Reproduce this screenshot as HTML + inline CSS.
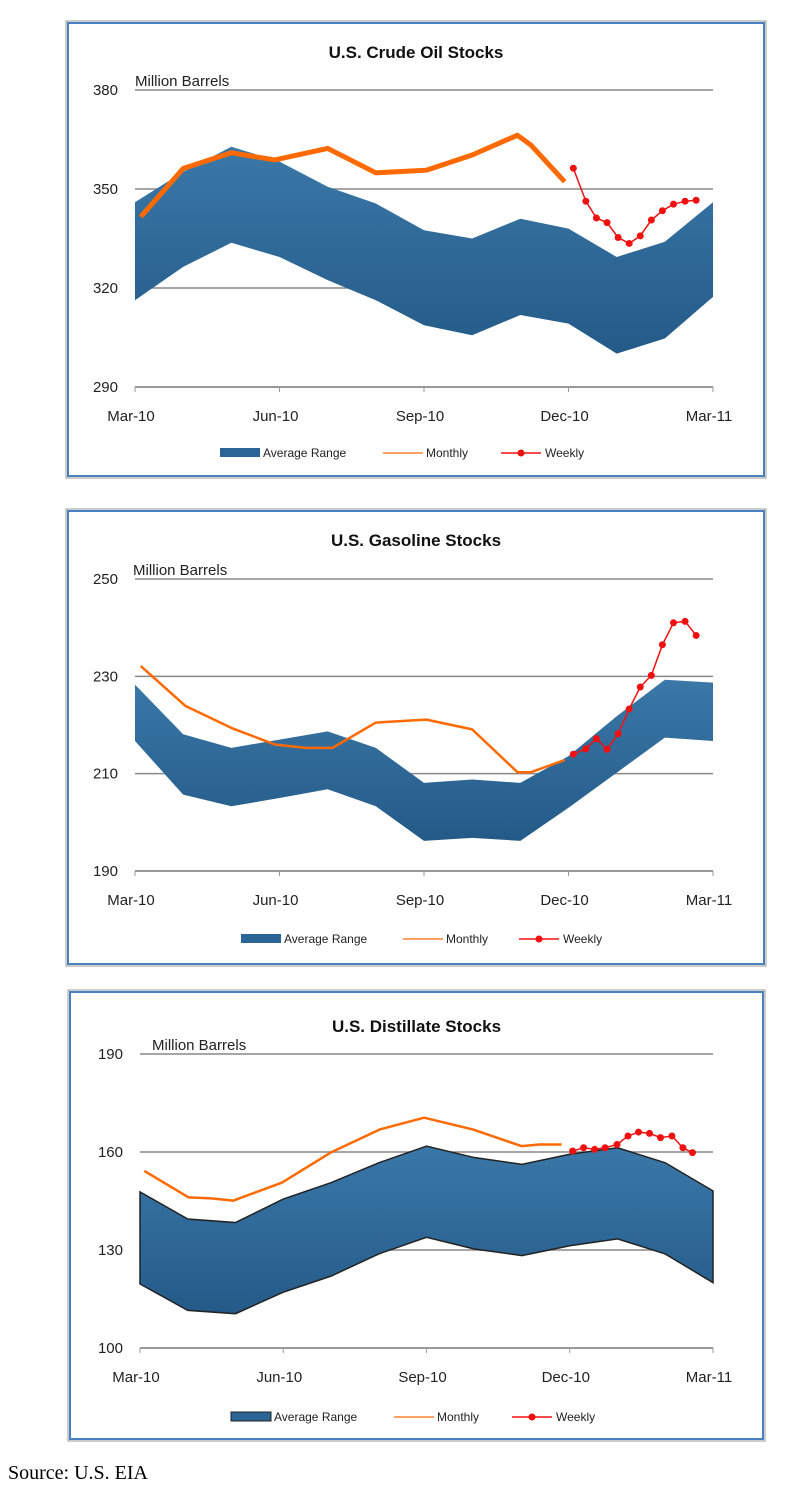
<!DOCTYPE html>
<html><head><meta charset="utf-8"><style>
body{margin:0;background:#fff;width:789px;height:1502px;position:relative;overflow:hidden;font-family:"Liberation Sans",sans-serif}
svg{position:absolute;left:0;top:0}
.src{position:absolute;left:8px;top:1462px;font-family:"Liberation Serif",serif;font-size:20px;color:#000}
</style></head><body>
<svg id="s" width="789" height="1502">
<defs><linearGradient id="bg" x1="0" y1="0" x2="0" y2="1"><stop offset="0" stop-color="#3a78a8"/><stop offset="1" stop-color="#245a88"/></linearGradient></defs>
</svg>
<div class="src">Source: U.S. EIA</div>
<script>
// ---- Crude oil data (x in months since Mar-10) ----
const crudeBandX=[0,1,2,3,4,5,6,7,8,9,10,11,12];
const crudeUpper=[346,355.2,362.8,358.3,350.7,345.6,337.5,335,341,338,329.4,334,346];
const crudeLower=[316.3,326.4,333.7,329.4,322.4,316.3,308.7,305.7,311.8,309.2,300.1,304.7,317.3];
const crudeMonthlyX=[0.12,1,2,2.9,4,5,6.05,7,7.94,8.22,8.92];
const crudeMonthly=[341.6,356.2,361,358.8,362.3,354.9,355.7,360.3,366.3,363.3,352.2];
const crudeWeeklyX=[9.1,9.36,9.58,9.8,10.03,10.26,10.49,10.72,10.95,11.18,11.42,11.65];
const crudeWeekly=[356.3,346.3,341.2,339.8,335.3,333.5,335.8,340.6,343.4,345.4,346.3,346.6];
const crudeTicks=[290,320,350,380];
// ---- Gasoline data ----
const gasBandX=[0,1,2,3,4,5,6,7,8,9,10,11,12];
const gasUpper=[228.3,218.1,215.3,217,218.7,215.3,208.1,208.8,208.1,213.6,221.8,229.3,228.7];
const gasLower=[216.7,205.7,203.3,205,206.8,203.3,196.2,196.8,196.2,203,210.2,217.4,216.7];
const gasMonthlyX=[0.12,1.05,2,2.9,3.55,4.1,5,6.05,7,7.94,8.22,8.92];
const gasMonthly=[232.1,223.9,219.4,216,215.3,215.3,220.5,221.1,219.1,210.3,210.3,212.8];
const gasWeeklyX=[9.1,9.36,9.58,9.8,10.03,10.26,10.49,10.72,10.95,11.18,11.42,11.65];
const gasWeekly=[214,215.1,217.2,215,218.2,223.3,227.8,230.2,236.5,241,241.3,238.4];
const gasTicks=[190,210,230,250];
// ---- Distillate data ----
const distBandX=[0,1,2,3,4,5,6,7,8,9,10,11,12];
const distUpper=[147.8,139.5,138.4,145.6,150.6,156.7,161.8,158.3,156.2,159.3,161.3,156.7,148.1];
const distLower=[119.6,111.5,110.5,117.1,122,128.8,133.9,130.3,128.3,131.3,133.4,128.8,120];
const distMonthlyX=[0.09,1.02,1.49,1.95,2.97,3.99,5.02,5.95,6.97,7.99,8.36,8.83];
const distMonthly=[154.2,146.1,145.8,145.1,150.6,159.8,166.9,170.5,166.9,161.8,162.3,162.3];
const distWeeklyX=[9.06,9.29,9.52,9.74,9.99,10.22,10.44,10.67,10.9,11.14,11.37,11.57];
const distWeekly=[160.3,161.3,160.8,161.3,162.3,164.9,166.1,165.7,164.4,164.9,161.3,159.8];
const distTicks=[100,130,160,190];
const xLabels=["Mar-10","Jun-10","Sep-10","Dec-10","Mar-11"];

const svg=document.getElementById('s');
const NS='http://www.w3.org/2000/svg';
function mk(tag,attrs,parent){const e=document.createElementNS(NS,tag);for(const k in attrs)e.setAttribute(k,attrs[k]);(parent||svg).appendChild(e);return e;}

function chart(c){
  const g=mk('g',{});
  
  
  const f=mk('rect',{x:c.fx,y:c.fy,width:c.fw,height:c.fh,fill:'#fff',stroke:'#4a7fc0','stroke-width':2},g);
  
  
  mk('rect',{x:c.fx-2,y:c.fy-2,width:c.fw+4,height:c.fh+4,fill:'none',stroke:'#999','stroke-width':1},g);
  const yMin=c.ticks[0],yMax=c.ticks[c.ticks.length-1];
  const X=m=>c.x0+(c.x1-c.x0)*m/12;
  const Y=v=>c.y1-(c.y1-c.y0)*(v-yMin)/(yMax-yMin);
  c.ticks.forEach((t,i)=>{
    const l=mk('line',{x1:c.x0,x2:c.x1,y1:Y(t),y2:Y(t),stroke:i==0?'#999':'#888','stroke-width':i==0?2:1.5},g);
    
    
    const tx=mk('text',{x:c.x0-17,y:Y(t)+5,'text-anchor':'end','font-size':15,fill:'#222'},g);tx.textContent=t;
    
    
  });
  xLabels.forEach((s,i)=>{
    mk('line',{x1:X(i*3),x2:X(i*3),y1:c.y1,y2:c.y1+5,stroke:'#999'},g);
    const tx=mk('text',{x:X(i*3)-4,y:c.y1+34,'text-anchor':'middle','font-size':15,fill:'#222'},g);tx.textContent=s;
    
    
  });
  let d='M'+c.bx.map((m,i)=>X(m)+','+Y(c.up[i])).join('L');
  for(let i=c.bx.length-1;i>=0;i--)d+='L'+X(c.bx[i])+','+Y(c.lo[i]);
  const band=mk('path',{d:d+'Z',fill:'url(#bg)',stroke:c.outline?'#222':'none','stroke-width':1.5},g);
  
  
  const mp=mk('polyline',{points:c.mx.map((m,i)=>X(m)+','+Y(c.mv[i])).join(' '),fill:'none',stroke:'#ff6a00','stroke-width':c.thick?5:2.5,'stroke-linejoin':'round'},g);
  
  
  const wp=mk('polyline',{points:c.wx.map((m,i)=>X(m)+','+Y(c.wv[i])).join(' '),fill:'none',stroke:'#f01010','stroke-width':1.5},g);
  
  
  c.wx.forEach((m,i)=>{const p=mk('circle',{cx:X(m),cy:Y(c.wv[i]),r:3.5,fill:'#f01010'},g);
    
    });
  const tt=mk('text',{x:c.fx+c.fw/2+(c.tdx||0),y:c.ty,'text-anchor':'middle','font-size':17,'font-weight':'bold',fill:'#111'},g);tt.textContent=c.title;
  
  
  const ul=mk('text',{x:c.ux,y:c.y0-4,'font-size':15,fill:'#222'},g);ul.textContent='Million Barrels';
  
  
  // legend
  const ly=c.ly;let lx=c.lx;
  const lg=mk('g',{},g);
  
  
  mk('rect',{x:lx,y:ly-5,width:40,height:9,fill:'#2b6497',stroke:c.outline?'#222':'none'},lg);
  let t=mk('text',{x:lx+43,y:ly+4,'font-size':12,fill:'#222'},lg);t.textContent='Average Range';
  lx+=c.lgap1;
  mk('line',{x1:lx,x2:lx+40,y1:ly,y2:ly,stroke:'#ff8030','stroke-width':1.5},lg);
  t=mk('text',{x:lx+43,y:ly+4,'font-size':12,fill:'#222'},lg);t.textContent='Monthly';
  lx+=c.lgap2;
  mk('line',{x1:lx,x2:lx+40,y1:ly,y2:ly,stroke:'#f01010','stroke-width':1.5},lg);
  mk('circle',{cx:lx+20,cy:ly,r:3.5,fill:'#f01010'},lg);
  t=mk('text',{x:lx+44,y:ly+4,'font-size':12,fill:'#222'},lg);t.textContent='Weekly';
}
chart({id:'crude',title:'U.S. Crude Oil Stocks',fx:68,fy:23,fw:696,fh:453,x0:135,x1:713,y0:90,y1:387,ty:58,ux:135,ticks:crudeTicks,bx:crudeBandX,up:crudeUpper,lo:crudeLower,mx:crudeMonthlyX,mv:crudeMonthly,wx:crudeWeeklyX,wv:crudeWeekly,thick:true,lx:220,ly:453,lgap1:163,lgap2:118});
chart({id:'gasoline',title:'U.S. Gasoline Stocks',fx:68,fy:511,fw:696,fh:453,x0:135,x1:713,y0:579,y1:871,ty:546,ux:133,ticks:gasTicks,bx:gasBandX,up:gasUpper,lo:gasLower,mx:gasMonthlyX,mv:gasMonthly,wx:gasWeeklyX,wv:gasWeekly,lx:241,ly:939,lgap1:162,lgap2:116});
chart({id:'distillate',title:'U.S. Distillate Stocks',fx:70,fy:992,fw:693,fh:447,x0:140,x1:713,y0:1054,y1:1348,ty:1032,ux:152,ticks:distTicks,bx:distBandX,up:distUpper,lo:distLower,mx:distMonthlyX,mv:distMonthly,wx:distWeeklyX,wv:distWeekly,outline:true,lx:231,ly:1417,lgap1:163,lgap2:118});
</script>
</body></html>
